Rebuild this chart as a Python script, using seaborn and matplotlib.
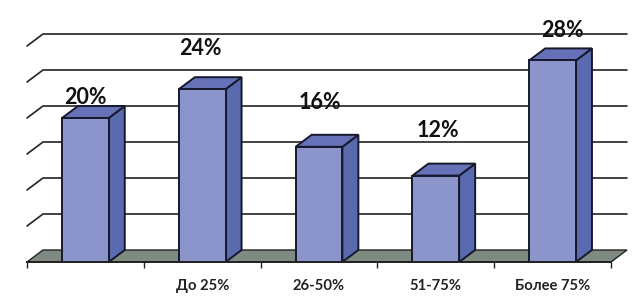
import matplotlib
matplotlib.use("Agg")
import matplotlib.pyplot as plt
from matplotlib.patches import Polygon
import pandas as pd
import seaborn as sns

categories = ["", "До 25%", "26-50%", "51-75%", "Более 75%"]
values = [20, 24, 16, 12, 28]
gridlines = [5, 10, 15, 20, 25, 30]
label_dx_px = [0, -2, 1, 2, 10]
label_dy_px = [21, 41, 44, 45, 30]

W, H = 642, 300
L, R, B, T = 27, 611, 262, 46
DEPTH_X_PX, DEPTH_Y_PX = 16, 12
INK = "#16182c"
FRONT, SIDE, TOP, FLOOR = "#8c94cc", "#5a6aae", "#6671b8", "#7f8a80"

sns.set_theme(style="white")
plt.rcParams["font.family"] = ["Lato", "DejaVu Sans"]
fig = plt.figure(figsize=(W / 100, H / 100), dpi=100, facecolor="white")
ax = fig.add_axes([L / W, 1 - B / H, (R - L) / W, (B - T) / H])

df = pd.DataFrame({"category": categories, "value": values})
sns.barplot(data=df, x="category", y="value", order=categories, width=0.4,
            color=FRONT, saturation=1, edgecolor=INK, linewidth=1.4,
            errorbar=None, ax=ax, zorder=5)
ax.set_xlim(-0.5, 4.5)
ax.set_ylim(0, 30)
dx = DEPTH_X_PX * (ax.get_xlim()[1] - ax.get_xlim()[0]) / (R - L)
dy = DEPTH_Y_PX * 30 / (B - T)

# Back wall gridlines with slanted left stubs
x0, x1 = ax.get_xlim()
for g in gridlines:
    ax.plot([x0, x0 + dx, x1 + dx], [g, g + dy, g + dy], color="#222222",
            lw=1.2, clip_on=False, zorder=1, solid_joinstyle="miter")

# Floor
ax.add_patch(Polygon([(x0, 0), (x0 + dx, dy), (x1 + dx, dy), (x1, 0)], closed=True,
                     fc=FLOOR, ec="#222222", lw=1.0, clip_on=False, zorder=2))

# 3D sides and tops of each bar, derived from the seaborn bars
for i, (bar, v) in enumerate(zip(ax.patches, values)):
    a, b = bar.get_x(), bar.get_x() + bar.get_width()
    ax.add_patch(Polygon([(b, 0), (b + dx, dy), (b + dx, v + dy), (b, v)], closed=True,
                         fc=SIDE, ec=INK, lw=1.4, clip_on=False, zorder=4))
    ax.add_patch(Polygon([(a, v), (a + dx, v + dy), (b + dx, v + dy), (b, v)], closed=True,
                         fc=TOP, ec=INK, lw=1.4, clip_on=False, zorder=4))
    ax.annotate(f"{v}%", (i, v), xytext=(label_dx_px[i] * 0.72, label_dy_px[i] * 0.72),
                textcoords="offset points", ha="center", va="center",
                fontsize=15.5, fontweight="bold", color="#111111",
                annotation_clip=False, zorder=8)

# Axis
for s in ["top", "left", "right"]:
    ax.spines[s].set_visible(False)
ax.spines["bottom"].set_color("#222222")
ax.spines["bottom"].set_linewidth(1.4)
ax.spines["bottom"].set_zorder(6)
ax.patch.set_alpha(0)
ax.set_yticks([])
ax.set_xlabel("")
ax.set_ylabel("")
ax.set_xticks([x - 0.5 for x in range(6)], minor=True)
ax.tick_params(axis="x", which="minor", length=4.5, width=1.0, color="#222222",
               bottom=True)
ax.tick_params(axis="x", which="major", length=0, pad=12, labelsize=10.6,
               labelcolor="#222222")
for t in ax.get_xticklabels():
    t.set_fontweight("bold")

fig.savefig("out.png", dpi=100)
